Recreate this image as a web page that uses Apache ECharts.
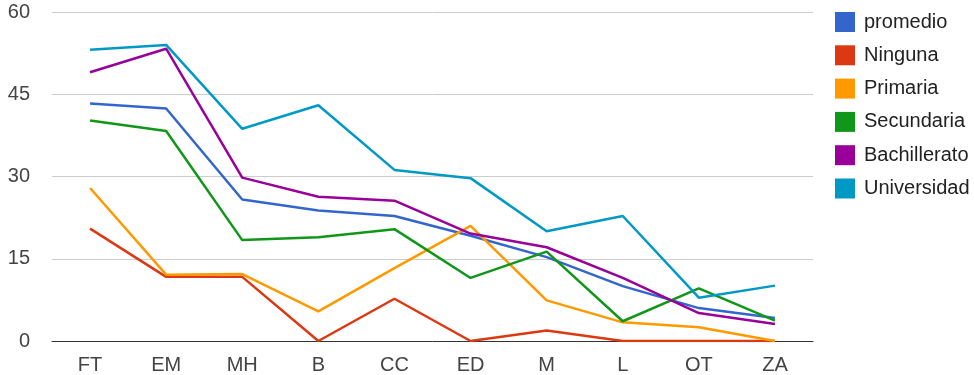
<!DOCTYPE html>
<html>
<head>
<meta charset="utf-8">
<script src="https://cdn.jsdelivr.net/npm/echarts@6/dist/echarts.min.js"></script>
<style>
  html, body { margin: 0; padding: 0; background: #fff; }
  #chart { width: 974px; height: 375px; }
</style>
</head>
<body>
<div id="chart"></div>
<script>
// Category labels along the x axis
const categories = ['FT', 'EM', 'MH', 'B', 'CC', 'ED', 'M', 'L', 'OT', 'ZA'];

// Series values, one array per education level
const promedio     = [43.3, 42.4, 25.8, 23.8, 22.8, 19.2, 15.3, 10.0, 6.0, 4.2];
const ninguna      = [20.5, 11.7, 11.7, 0, 7.7, 0, 1.9, 0, 0, 0];
const primaria     = [27.9, 12.1, 12.2, 5.4, 13.3, 21.0, 7.4, 3.4, 2.5, 0];
const secundaria   = [40.2, 38.3, 18.4, 18.9, 20.4, 11.5, 16.3, 3.6, 9.6, 3.7];
const bachillerato = [49.0, 53.3, 29.8, 26.3, 25.6, 19.6, 17.1, 11.5, 5.1, 3.1];
const universidad  = [53.1, 54.0, 38.7, 43.0, 31.2, 29.7, 20.0, 22.8, 7.9, 10.1];

// Value axis ticks
const yTicks = [0, 15, 30, 45, 60];

const seriesDefs = [
  { name: 'promedio',     data: promedio,     color: '#3366cc' },
  { name: 'Ninguna',      data: ninguna,      color: '#dc3912' },
  { name: 'Primaria',     data: primaria,     color: '#ff9900' },
  { name: 'Secundaria',   data: secundaria,   color: '#109618' },
  { name: 'Bachillerato', data: bachillerato, color: '#990099' },
  { name: 'Universidad',  data: universidad,  color: '#0099c6' }
];

const font = 'Liberation Sans, Arial, sans-serif';
const chart = echarts.init(document.getElementById('chart'), null, { renderer: 'canvas' });

chart.setOption({
  animation: false,
  color: seriesDefs.map(s => s.color),
  grid: { left: 52, right: 161, top: 12, bottom: 33, containLabel: false },
  legend: {
    orient: 'vertical',
    left: 835,
    top: 12,
    padding: 0,
    icon: 'rect',
    itemWidth: 20,
    itemHeight: 20,
    itemGap: 13.3,
    textStyle: { fontFamily: font, fontSize: 20, color: '#222', padding: [0, 0, 0, 4] },
    data: seriesDefs.map(s => s.name)
  },
  xAxis: {
    type: 'category',
    data: categories,
    boundaryGap: true,
    axisLine: { lineStyle: { color: '#333', width: 1 } },
    axisTick: { show: false },
    axisLabel: { fontFamily: font, fontSize: 20, color: '#444', margin: 14 }
  },
  yAxis: {
    type: 'value',
    min: yTicks[0],
    max: yTicks[yTicks.length - 1],
    interval: yTicks[1] - yTicks[0],
    axisLine: { show: false },
    axisTick: { show: false },
    splitLine: { lineStyle: { color: '#cccccc', width: 1 } },
    axisLabel: { fontFamily: font, fontSize: 20, color: '#444', margin: 22 }
  },
  series: seriesDefs.map(s => ({
    name: s.name,
    type: 'line',
    data: s.data,
    showSymbol: false,
    symbol: 'none',
    lineStyle: { width: 2.5, color: s.color },
    itemStyle: { color: s.color }
  }))
});
</script>
</body>
</html>
